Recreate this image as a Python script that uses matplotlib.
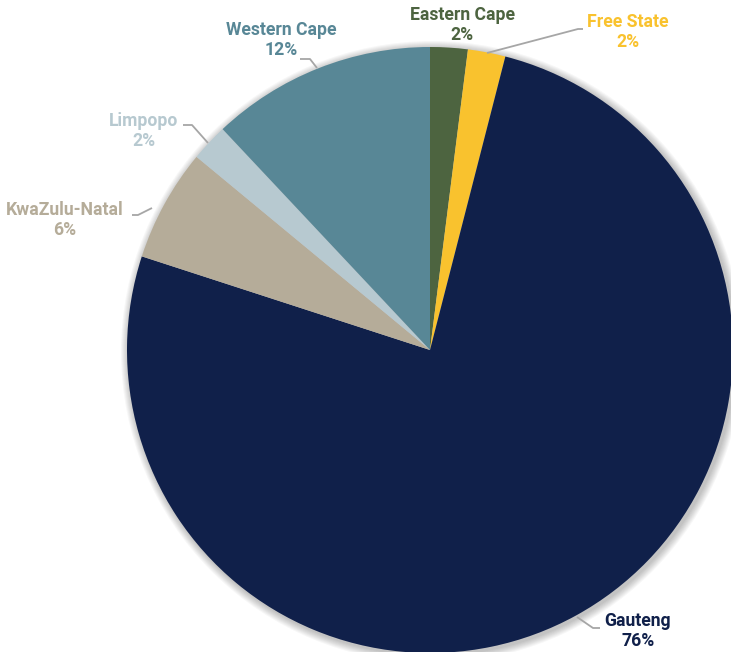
import matplotlib.pyplot as plt
from matplotlib.patches import Circle

provinces = ['Eastern Cape', 'Free State', 'Gauteng', 'KwaZulu-Natal', 'Limpopo', 'Western Cape']
shares = [2, 2, 76, 6, 2, 12]
colors = ['#4d6440', '#f9c22e', '#10204a', '#b5ac99', '#b7c9d0', '#588796']

W, H = 731, 652
CX, CY, R = 430, 350, 303

# label block centres and leader lines, in pixel coords (y measured from top)
label_pos = {
    'Eastern Cape': (462, 25),
    'Free State': (628, 32),
    'Gauteng': (638, 631),
    'KwaZulu-Natal': (65, 220),
    'Limpopo': (144, 131),
    'Western Cape': (281, 40),
}
leaders = {
    'Free State': [(487, 53), (578, 29), (583, 29)],
    'Gauteng': [(577, 617), (593, 628), (600, 628)],
    'KwaZulu-Natal': [(132, 215), (138, 215), (152, 208)],
    'Limpopo': [(183, 125), (192, 125), (208, 143)],
    'Western Cape': [(300, 59), (310, 59), (317, 68)],
}

plt.rcParams['font.family'] = ['Roboto', 'DejaVu Sans']

fig = plt.figure(figsize=(W / 100, H / 100), dpi=100)
ax = fig.add_axes([0, 0, 1, 1])

def fy(y):
    return H - y

# soft glow behind the pie
for k in range(8):
    ax.add_patch(Circle((CX + 2, fy(CY) - 2), R + 1 + k, color='black',
                        alpha=0.03, lw=0, zorder=0))

ax.pie(shares, colors=colors, startangle=90, counterclock=False,
       center=(CX, fy(CY)), radius=R, frame=True,
       wedgeprops=dict(linewidth=0, zorder=1))
ax.set_xlim(0, W)
ax.set_ylim(0, H)
ax.set_aspect('equal')
ax.axis('off')

for name, val, col in zip(provinces, shares, colors):
    x, y = label_pos[name]
    ax.text(x, fy(y), f'{name}\n{val}%', color=col, ha='center', va='center',
            fontsize=12.7, fontweight='bold', linespacing=1.15, zorder=5)
    if name in leaders:
        pts = leaders[name]
        ax.plot([p[0] for p in pts], [fy(p[1]) for p in pts],
                color='#a6a6a6', lw=1.3, zorder=4, solid_capstyle='butt')

fig.savefig('out.png', dpi=100)
